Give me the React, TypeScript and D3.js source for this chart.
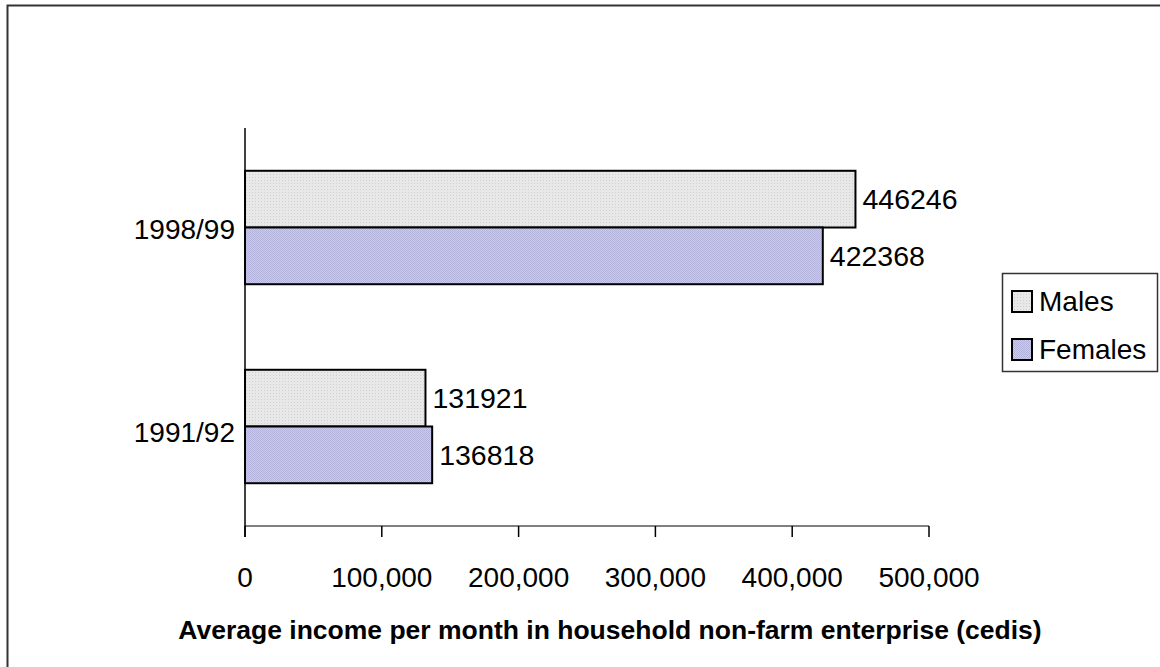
import React from "react";
import * as d3 from "d3";

const categories = ["1998/99", "1991/92"];
const seriesNames = ["Males", "Females"];
const males = [446246, 131921];
const females = [422368, 136818];
const xTicks = [0, 100000, 200000, 300000, 400000, 500000];

const W = 1160;
const H = 667;
const plot = { left: 245, right: 929, top: 128, bottom: 526 };

export default function App() {
  const x = d3.scaleLinear().domain([0, 500000]).range([plot.left, plot.right]);
  const y = d3.scaleBand().domain(categories).range([plot.top, plot.bottom]).paddingInner(0.43).paddingOuter(0.215);
  const sub = d3.scaleBand().domain(seriesNames).range([0, y.bandwidth()]);
  const fmt = d3.format(",");
  const values = [males, females];
  const fills = ["url(#patM)", "url(#patF)"];
  const font = "'Liberation Sans', Arial, sans-serif";

  return (
    <svg width={W} height={H} style={{ position: "absolute", left: 0, top: 0, background: "#fff" }}>
      <defs>
        <pattern id="patM" width="3" height="3" patternUnits="userSpaceOnUse">
          <rect width="3" height="3" fill="#e8e8e8" />
          <rect width="1" height="1" fill="#cfcfcf" />
        </pattern>
        <pattern id="patF" width="2" height="2" patternUnits="userSpaceOnUse">
          <rect width="2" height="2" fill="#cacae8" />
          <rect width="1" height="1" fill="#b4b4dc" />
          <rect x="1" y="1" width="1" height="1" fill="#b4b4dc" />
        </pattern>
      </defs>
      <rect x={7.5} y={5.5} width={1200} height={700} fill="none" stroke="#333" strokeWidth={2} />

      {/* bars */}
      {categories.map((c, ci) =>
        seriesNames.map((s, si) => {
          const v = values[si][ci];
          const by = (y(c) as number) + (sub(s) as number);
          return (
            <g key={c + s}>
              <rect x={x(0)} y={by} width={x(v) - x(0)} height={sub.bandwidth()} fill={fills[si]} stroke="#000" strokeWidth={2} />
              <text x={x(v) + 7} y={by + sub.bandwidth() / 2} dominantBaseline="central" fontFamily={font} fontSize={28.5} fill="#000">
                {v}
              </text>
            </g>
          );
        })
      )}

      {/* x axis */}
      <line x1={plot.left} x2={plot.right} y1={plot.bottom} y2={plot.bottom} stroke="#808080" strokeWidth={2} />
      {xTicks.map((t) => (
        <g key={t}>
          <line x1={x(t)} x2={x(t)} y1={plot.bottom} y2={plot.bottom + 11} stroke="#000" strokeWidth={1.5} />
          <text x={x(t)} y={577} textAnchor="middle" dominantBaseline="central" fontFamily={font} fontSize={28} fill="#000">
            {fmt(t)}
          </text>
        </g>
      ))}
      {/* y axis */}
      <line x1={plot.left} x2={plot.left} y1={plot.top} y2={plot.bottom + 11} stroke="#000" strokeWidth={1.5} />
      {categories.map((c, i) => (
        <text key={c} x={235} y={(y(c) as number) + y.bandwidth() / 2 + 2 + i * 4} textAnchor="end" dominantBaseline="central" fontFamily={font} fontSize={28} fill="#000">
          {c}
        </text>
      ))}

      <text x={610} y={630} textAnchor="middle" dominantBaseline="central" fontFamily={font} fontSize={26.5} fontWeight="bold" fill="#000">
        Average income per month in household non-farm enterprise (cedis)
      </text>

      {/* legend */}
      <rect x={1002.5} y={273.5} width={155} height={98} fill="#fff" stroke="#333" strokeWidth={1.5} />
      {seriesNames.map((s, i) => (
        <g key={s}>
          <rect x={1012} y={291 + i * 48} width={20} height={21} fill={fills[i]} stroke="#000" strokeWidth={2} />
          <text x={1039} y={301 + i * 48} dominantBaseline="central" fontFamily={font} fontSize={28} fill="#000">
            {s}
          </text>
        </g>
      ))}
    </svg>
  );
}
